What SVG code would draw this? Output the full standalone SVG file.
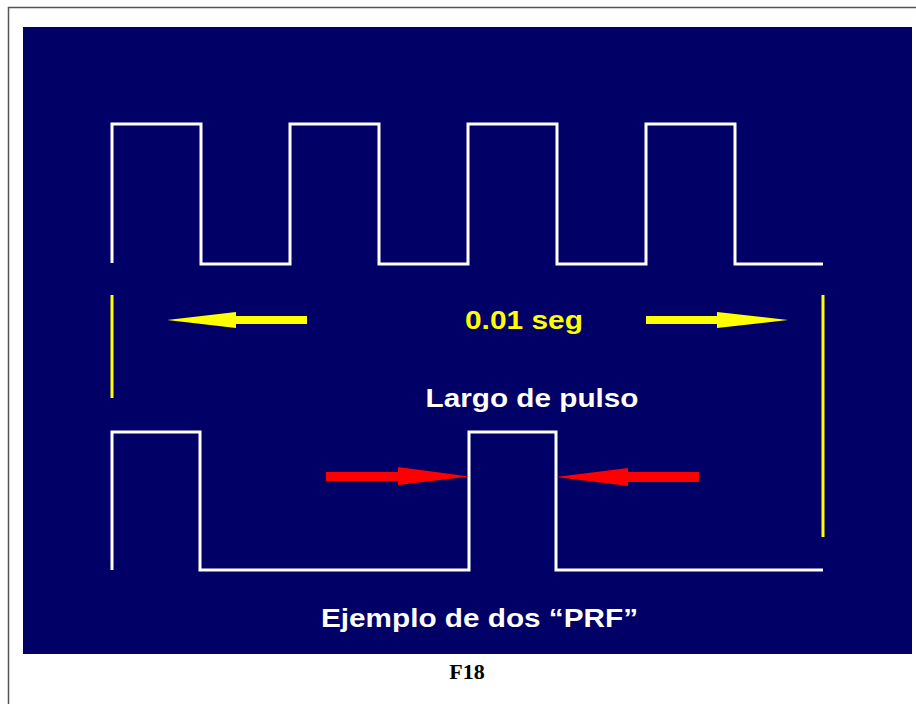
<svg xmlns="http://www.w3.org/2000/svg" width="916" height="704" viewBox="0 0 916 704">
<style>
.wave{fill:none;stroke:#ffffff;stroke-width:3;stroke-linejoin:miter;stroke-linecap:butt}
.ybar{stroke:#ffff00;stroke-width:3}
.yarrow{fill:#ffff00}
.rarrow{fill:#ff0000}
.lbl{font-family:"Liberation Sans",Arial,sans-serif;font-weight:bold;text-anchor:middle}
</style>
<rect x="0" y="0" width="916" height="704" fill="#ffffff"/>
<rect x="8.5" y="7.5" width="920" height="720" fill="none" stroke="#555555" stroke-width="1.5"/>
<rect x="23" y="27" width="889" height="627" fill="#000066"/>
<g id="upper-wave">
<path class="wave" d="M112,263 V124 H201 V264 H290 V124 H379 V264 H468 V124 H557 V264 H646 V124 H735 V264 H823"/>
</g>
<g id="lower-wave">
<path class="wave" d="M112,570 V432 H200 V570 H469 V432 H556 V570 H823"/>
</g>
<g id="connectors">
<line class="ybar" x1="112" y1="295" x2="112" y2="398"/>
<line class="ybar" x1="823" y1="295" x2="823" y2="537"/>
<polygon class="yarrow" points="307,316 236,316 236,312 167,320 236,328 236,324 307,324"/>
<polygon class="yarrow" points="646,316 717,316 717,312 788,320 717,328 717,324 646,324"/>
<polygon class="rarrow" points="326,472 398,472 398,467 469,476.5 398,485 398,481 326,481"/>
<polygon class="rarrow" points="699,472 628,472 628,468 556,477 628,486 628,482 699,482"/>
</g>
<g id="label-time">
<text class="lbl" x="524" y="329" font-size="26" fill="#ffff00" textLength="118" lengthAdjust="spacingAndGlyphs">0.01 seg</text>
</g>
<g id="label-pulse">
<text class="lbl" x="532" y="407" font-size="25" fill="#ffffff" textLength="213" lengthAdjust="spacingAndGlyphs">Largo de pulso</text>
</g>
<g id="label-prf">
<text class="lbl" x="479.5" y="627" font-size="25" fill="#ffffff" textLength="317" lengthAdjust="spacingAndGlyphs">Ejemplo de dos “PRF”</text>
</g>
<g id="caption">
<text x="467" y="679" font-family="'Liberation Serif','Times New Roman',serif" font-weight="bold" font-size="22" text-anchor="middle" fill="#000000">F18</text>
</g>
</svg>
